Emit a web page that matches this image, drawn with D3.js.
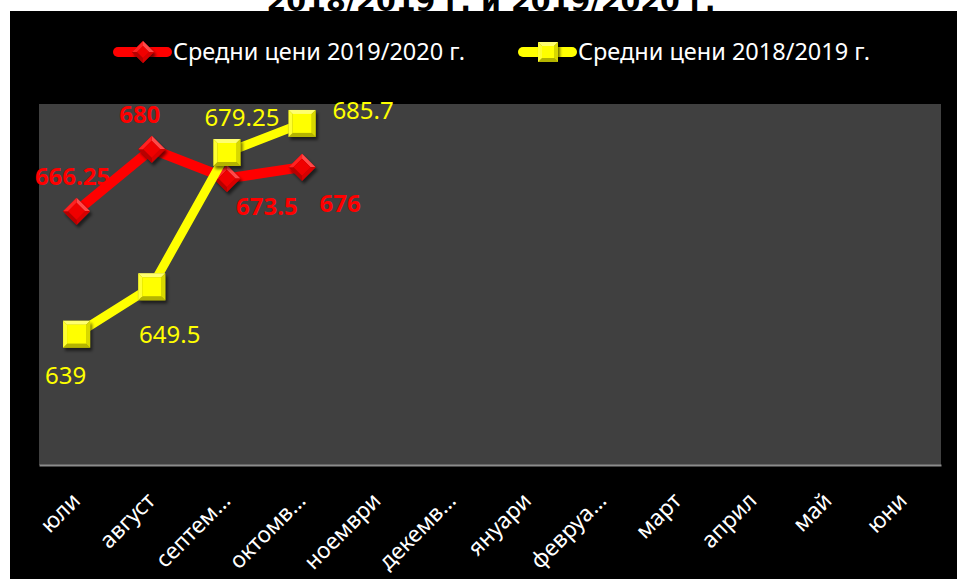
<!DOCTYPE html>
<html><head><meta charset="utf-8">
<script src="https://cdn.jsdelivr.net/npm/d3@7/dist/d3.min.js"></script>
<style>html,body{margin:0;padding:0;background:#fff;}svg{display:block;}</style>
</head><body>
<script>
const months = ["юли","август","септем…","октомв…","ноември","декемв…","януари","февруа…","март","април","май","юни"];
const series2020 = [666.25, 680, 673.5, 676];
const series2019 = [639, 649.5, 679.25, 685.7];
const seriesNames = ["Средни цени 2019/2020 г.", "Средни цени 2018/2019 г."];
const yDomain = [610, 690];
const titleText = "2018/2019 г. и 2019/2020 г.";

// label offsets (layout only): label centre relative to point
const off2020 = [[-4,-35],[-12,-35],[40,28],[38,36]];
const off2019 = [[-11,41],[18,47],[15,-36],[61,-13]];

const W = 957, H = 579;
const svg = d3.select("body").append("svg").attr("width", W).attr("height", H);
const defs = svg.append("defs");
const f = defs.append("filter").attr("id","sh").attr("x","-50%").attr("y","-50%").attr("width","200%").attr("height","200%");
f.append("feDropShadow").attr("dx",2).attr("dy",3).attr("stdDeviation",1.5).attr("flood-color","#000").attr("flood-opacity",0.55);

svg.append("text").attr("x", 491).attr("y", 11).attr("text-anchor","middle")
  .attr("font-family","DejaVu Sans").attr("font-weight","bold").attr("font-size",28.5)
  .attr("fill","#000").text(titleText);
svg.append("rect").attr("x",10).attr("y",11).attr("width",W-10).attr("height",H-11).attr("fill","#000");

const m = {l:39, t:104, r:941, b:465};
svg.append("rect").attr("x",m.l).attr("y",m.t).attr("width",m.r-m.l).attr("height",m.b-m.t).attr("fill","#404040");

const x = d3.scaleBand().domain(months).range([m.l, m.r]);
const y = d3.scaleLinear().domain(yDomain).range([m.b, m.t]);
const cx = i => x(months[i]) + x.bandwidth()/2;

// axis
const ax = svg.append("g").attr("transform",`translate(0,${m.b})`).call(d3.axisBottom(x).tickSize(0).tickFormat(""));
ax.select(".domain").attr("stroke","#8c8c8c").attr("stroke-width",2);
svg.append("g").selectAll("text").data(months).join("text")
  .attr("transform", d => `translate(${x(d)+x.bandwidth()/2+5},${m.b+37}) rotate(-45)`)
  .attr("text-anchor","end").attr("font-family","Noto Sans").attr("font-size",22.5).attr("fill","#fff")
  .text(d=>d);

const line = d3.line().x((d,i)=>cx(i)).y(d=>y(d));

function diamond(g, px, py, s) {
  const h = s/2, k = h-5;
  const P = (a)=>a.map(p=>p.join(",")).join(" ");
  const o = [[px,py-h],[px+h,py],[px,py+h],[px-h,py]];
  const n = [[px,py-k],[px+k,py],[px,py+k],[px-k,py]];
  const gg = g.append("g").attr("filter","url(#sh)");
  gg.append("polygon").attr("points",P(o)).attr("fill","#b00000");
  const cols = ["#ff4a4a","#d80000","#b80000","#ff2020"];
  for (let i=0;i<4;i++){ const j=(i+1)%4; gg.append("polygon").attr("points",P([o[i],o[j],n[j],n[i]])).attr("fill",cols[i]); }
  gg.append("polygon").attr("points",P(n)).attr("fill","#f00000");
}
function square(g, px, py, s) {
  const h = s/2, k = h-4;
  const P = (a)=>a.map(p=>p.join(",")).join(" ");
  const o = [[px-h,py-h],[px+h,py-h],[px+h,py+h],[px-h,py+h]];
  const n = [[px-k,py-k],[px+k,py-k],[px+k,py+k],[px-k,py+k]];
  const gg = g.append("g").attr("filter","url(#sh)");
  gg.append("polygon").attr("points",P(o)).attr("fill","#a0a000");
  const cols = ["#ffff70","#d8d800","#b4b400","#ffff30"];
  for (let i=0;i<4;i++){ const j=(i+1)%4; gg.append("polygon").attr("points",P([o[i],o[j],n[j],n[i]])).attr("fill",cols[i]); }
  gg.append("polygon").attr("points",P(n)).attr("fill","#ffff00");
}

// red series
const gR = svg.append("g");
gR.append("path").datum(series2020).attr("d",line).attr("fill","none").attr("stroke","#ff0000")
  .attr("stroke-width",10).attr("stroke-linecap","round").attr("stroke-linejoin","round");
series2020.forEach((v,i)=>diamond(gR, cx(i), y(v), 27));
// yellow series
const gY = svg.append("g");
gY.append("path").datum(series2019).attr("d",line).attr("fill","none").attr("stroke","#ffff00")
  .attr("stroke-width",9).attr("stroke-linecap","round").attr("stroke-linejoin","round");
series2019.forEach((v,i)=>square(gY, cx(i), y(v), 27));

// labels
svg.append("g").selectAll("text").data(series2020).join("text")
  .attr("x",(d,i)=>cx(i)+off2020[i][0]).attr("y",(d,i)=>y(d)+off2020[i][1]+9)
  .attr("text-anchor","middle").attr("font-family","Noto Sans").attr("font-weight","bold").attr("font-size",24)
  .attr("fill","#ff0000").text(d=>d);
svg.append("g").selectAll("text").data(series2019).join("text")
  .attr("x",(d,i)=>cx(i)+off2019[i][0]).attr("y",(d,i)=>y(d)+off2019[i][1]+9)
  .attr("text-anchor","middle").attr("font-family","Noto Sans").attr("font-size",24)
  .attr("fill","#ffff00").text(d=>d);

// legend
const lg = svg.append("g");
const legItems = [{name:seriesNames[0], c:"#ff0000", x0:113, t:"d"},{name:seriesNames[1], c:"#ffff00", x0:518, t:"s"}];
legItems.forEach(it=>{
  lg.append("line").attr("x1",it.x0+5).attr("x2",it.x0+54).attr("y1",52).attr("y2",52)
    .attr("stroke",it.c).attr("stroke-width",10).attr("stroke-linecap","round");
  if (it.t==="d") diamond(lg, it.x0+30, 52, 22); else square(lg, it.x0+30, 52, 20);
  lg.append("text").attr("x",it.x0+60).attr("y",60).attr("font-family","Noto Sans").attr("font-size",23.5)
    .attr("fill","#fff").text(it.name);
});
</script>
</body></html>
